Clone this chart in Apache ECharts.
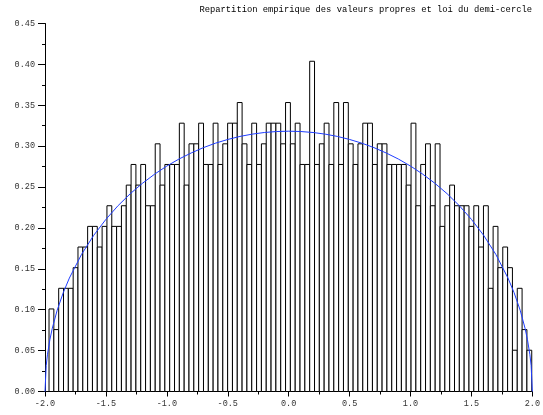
<!DOCTYPE html>
<html>
<head>
<meta charset="utf-8">
<script src="https://cdn.jsdelivr.net/npm/echarts@6/dist/echarts.min.js"></script>
<style>
  html, body { margin: 0; padding: 0; background: #fff; }
  #chart { width: 543px; height: 415px; }
</style>
</head>
<body>
<div id="chart"></div>
<script>
// histogram: eigenvalue counts in 100 equal bins between the extreme eigenvalues
const nEig = 1000;
const binMin = -1.967;
const binMax = 1.995;
const counts = [
  4, 3, 5, 5, 5, 6, 7, 7, 8, 8,
  7, 8, 9, 8, 8, 9, 10, 11, 10, 11,
  9, 9, 12, 10, 11, 11, 11, 13, 10, 12,
  12, 13, 11, 11, 13, 11, 12, 13, 13, 14,
  12, 11, 13, 11, 12, 13, 13, 13, 12, 14,
  12, 13, 11, 11, 16, 11, 12, 13, 11, 14,
  11, 14, 12, 11, 12, 13, 13, 11, 12, 12,
  11, 11, 11, 11, 10, 13, 9, 11, 12, 9,
  12, 8, 9, 10, 9, 9, 9, 8, 9, 7,
  9, 5, 8, 6, 7, 6, 2, 5, 3, 2,
];

// semicircle law, points
const curveX = [-2, -1.99, -1.98, -1.96, -1.94, -1.9, -1.85, -1.8, -1.7, -1.6, -1.5, -1.4, -1.3,
  -1.2, -1.1, -1.0, -0.9, -0.8, -0.7, -0.6, -0.5, -0.4, -0.3, -0.2, -0.1, 0,
  0.1, 0.2, 0.3, 0.4, 0.5, 0.6, 0.7, 0.8, 0.9, 1.0, 1.1, 1.2, 1.3, 1.4, 1.5,
  1.6, 1.7, 1.8, 1.85, 1.9, 1.94, 1.96, 1.98, 1.99, 2];
const curveY = [0, 0.0318, 0.0449, 0.0633, 0.0774, 0.0994, 0.1209, 0.1387, 0.1677, 0.1910, 0.2105, 0.2273, 0.2419,
  0.2546, 0.2658, 0.2757, 0.2843, 0.2917, 0.2982, 0.3037, 0.3082, 0.3119, 0.3147, 0.3167, 0.3179, 0.3183,
  0.3179, 0.3167, 0.3147, 0.3119, 0.3082, 0.3037, 0.2982, 0.2917, 0.2843, 0.2757, 0.2658, 0.2546, 0.2419, 0.2273, 0.2105,
  0.1910, 0.1677, 0.1387, 0.1209, 0.0994, 0.0774, 0.0633, 0.0449, 0.0318, 0];

const xTicks = { min: -2, max: 2, step: 0.5 };
const yTicks = { min: 0, max: 0.45, step: 0.05 };

const binW = (binMax - binMin) / counts.length;
const bars = counts.map((c, i) => [binMin + i * binW, binMin + (i + 1) * binW, c / (nEig * binW)]);
const curve = curveX.map((x, i) => [x, curveY[i]]);

const monoFont = '"Liberation Mono", "DejaVu Sans Mono", monospace';

const chart = echarts.init(document.getElementById('chart'));
chart.setOption({
  animation: false,
  title: {
    text: 'Repartition empirique des valeurs propres et loi du demi-cercle',
    right: 11,
    top: 5,
    padding: 0,
    textStyle: { fontFamily: monoFont, fontSize: 8.8, fontWeight: 'normal', color: '#000' },
  },
  grid: { left: 45, right: 10, top: 23.5, bottom: 23.5 },
  xAxis: {
    type: 'value',
    min: xTicks.min,
    max: xTicks.max,
    interval: xTicks.step,
    axisLine: { onZero: false, lineStyle: { color: '#000', width: 1 } },
    axisTick: { length: 5, lineStyle: { color: '#000' } },
    minorTick: { show: true, splitNumber: 2, length: 3, lineStyle: { color: '#000' } },
    splitLine: { show: false },
    axisLabel: {
      margin: 8,
      fontFamily: monoFont,
      fontSize: 8.5,
      color: '#333',
      formatter: (v) => v.toFixed(1),
    },
  },
  yAxis: {
    type: 'value',
    min: yTicks.min,
    max: yTicks.max,
    interval: yTicks.step,
    axisLine: { show: true, onZero: false, lineStyle: { color: '#000', width: 1 } },
    axisTick: { show: true, length: 7, lineStyle: { color: '#000' } },
    minorTick: { show: true, splitNumber: 2, length: 3, lineStyle: { color: '#000' } },
    splitLine: { show: false },
    axisLabel: {
      margin: 10,
      fontFamily: monoFont,
      fontSize: 8.5,
      color: '#333',
      formatter: (v) => v.toFixed(2),
    },
  },
  series: [
    {
      type: 'custom',
      data: bars,
      encode: { x: [0, 1], y: 2 },
      renderItem(params, api) {
        const p0 = api.coord([api.value(0), api.value(2)]);
        const p1 = api.coord([api.value(1), 0]);
        return {
          type: 'rect',
          shape: { x: p0[0], y: p0[1], width: p1[0] - p0[0], height: p1[1] - p0[1] },
          style: { fill: '#fff', stroke: '#000', lineWidth: 1 },
        };
      },
    },
    {
      type: 'line',
      data: curve,
      symbol: 'none',
      smooth: false,
      lineStyle: { color: '#1f3dff', width: 1 },
      z: 5,
    },
  ],
});
</script>
</body>
</html>
